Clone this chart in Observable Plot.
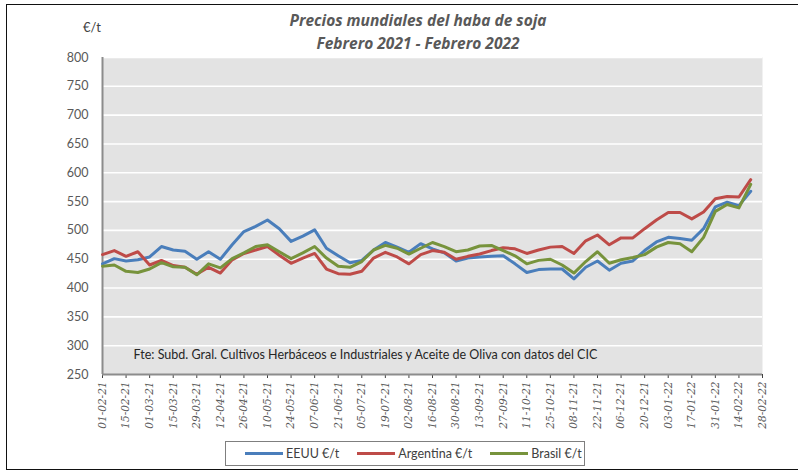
<!DOCTYPE html>
<html>
<head>
<meta charset="utf-8">
<script src="https://cdn.jsdelivr.net/npm/d3@7"></script>
<script src="https://cdn.jsdelivr.net/npm/@observablehq/plot@0.6"></script>
<style>
  html, body { margin: 0; padding: 0; background: #fff; }
  #wrap { position: relative; width: 798px; height: 476px; overflow: hidden; font-family: Lato, "Open Sans", sans-serif; }
  #border { position: absolute; left: 6px; top: 4px; width: 800px; height: 466px; border: 1.5px solid #111; box-sizing: border-box; }
  #chart { position: absolute; left: 0; top: 0; }
  .title { position: absolute; left: 0; width: 836px; text-align: center; font-family: "Open Sans", Lato, sans-serif; font-weight: bold; font-style: italic; font-size: 15.5px; color: #595959; }
  #unit { position: absolute; left: 83px; top: 19px; font-size: 13px; color: #404040; }
  #legend { position: absolute; left: 225px; top: 441px; width: 360px; height: 25px; border: 1px solid #7f7f7f; box-sizing: border-box; display: flex; align-items: center; font-size: 12.5px; color: #404040; }
  .item { display: flex; align-items: center; margin-left: 19px; }
  .item + .item { margin-left: 18px; }
  .sw { display: inline-block; width: 38px; height: 3px; margin-right: 3px; }
  svg g[aria-label="x-axis tick label"] text { font-style: italic; }
</style>
</head>
<body>
<div id="wrap">
  <div id="border"></div>
  <div id="chart"></div>
  <div class="title" style="top:9px">Precios mundiales del haba de soja</div>
  <div class="title" style="top:32px">Febrero 2021 - Febrero 2022</div>
  <div id="unit">€/t</div>
  <div id="legend"></div>
</div>
<script>
// ---- Data ----
const startDate = "2021-02-01";           // first weekly observation
const seriesNames = ["EEUU €/t", "Argentina €/t", "Brasil €/t"];
const seriesColors = ["#4a7ebb", "#be4b48", "#77933c"];

const eeuu = [442, 451, 447, 449, 454, 472, 466, 464, 450, 463, 450, 475, 498, 507, 518, 503,
  481, 490, 501, 469, 456, 444, 448, 466, 479, 471, 462, 477, 468, 461, 447, 452, 454, 455,
  456, 442, 427, 432, 433, 433, 416, 436, 447, 431, 443, 447, 465, 480, 488, 486, 483, 503,
  541, 549, 543, 568];
const argentina = [458, 465, 455, 463, 440, 448, 439, 436, 424, 436, 426, 449, 460, 466, 472, 457,
  443, 452, 460, 433, 425, 424, 429, 452, 462, 454, 442, 458, 465, 462, 450, 455, 459, 465,
  470, 468, 460, 466, 471, 472, 460, 482, 492, 475, 487, 487, 503, 518, 531, 531, 520, 532,
  555, 559, 558, 588];
const brasil = [438, 440, 429, 427, 433, 444, 437, 436, 423, 442, 435, 451, 461, 472, 475, 463,
  451, 461, 472, 452, 438, 436, 446, 466, 474, 469, 459, 469, 479, 472, 463, 466, 473, 474,
  465, 456, 442, 448, 450, 440, 426, 446, 463, 443, 449, 453, 458, 471, 479, 477, 463, 488,
  533, 545, 539, 580];

const tickLabels = ["01-02-21", "15-02-21", "01-03-21", "15-03-21", "29-03-21", "12-04-21",
  "26-04-21", "10-05-21", "24-05-21", "07-06-21", "21-06-21", "05-07-21", "19-07-21",
  "02-08-21", "16-08-21", "30-08-21", "13-09-21", "27-09-21", "11-10-21", "25-10-21",
  "08-11-21", "22-11-21", "06-12-21", "20-12-21", "03-01-22", "17-01-22", "31-01-22",
  "14-02-22", "28-02-22"];
const yTicks = [250, 300, 350, 400, 450, 500, 550, 600, 650, 700, 750, 800];
const note = "Fte: Subd. Gral. Cultivos Herbáceos e Industriales y Aceite de Oliva con datos del CIC";

// ---- Build table ----
const parse = d3.utcParse("%d-%m-%y");
const fmt = d3.utcFormat("%d-%m-%y");
const tickDates = tickLabels.map(parse);
const t0 = d3.utcParse("%Y-%m-%d")(startDate);
const allSeries = [eeuu, argentina, brasil];
const rows = [];
allSeries.forEach((vals, s) => vals.forEach((v, i) => rows.push({
  date: d3.utcDay.offset(t0, 7 * i), value: v, series: seriesNames[s]
})));

const chart = Plot.plot({
  width: 798,
  height: 476,
  marginLeft: 102,
  marginRight: 36,
  marginTop: 57,
  marginBottom: 102,
  style: { fontFamily: "Lato, 'Open Sans', sans-serif", background: "transparent", overflow: "visible" },
  x: { type: "utc", domain: [tickDates[0], tickDates[tickDates.length - 1]] },
  y: { domain: [yTicks[0], yTicks[yTicks.length - 1]] },
  color: { domain: seriesNames, range: seriesColors },
  marks: [
    Plot.frame({ fill: "#e3e3e3", stroke: null }),
    Plot.ruleY(yTicks.slice(1), { stroke: "#ffffff", strokeWidth: 1.6 }),
    Plot.axisY(yTicks, { tickSize: 0, tickPadding: 14, fontSize: 12.5, fill: "#595959", label: null }),
    Plot.axisX(tickDates, {
      tickSize: 4, tickPadding: 3, tickRotate: -90, tickFormat: fmt,
      fontSize: 10.5, fontFamily: "'DejaVu Serif', 'Liberation Serif', serif", fontStyle: "italic",
      fill: "#595959", stroke: "#404040", label: null
    }),
    Plot.ruleX([tickDates[0]], { stroke: "#8c8c8c", strokeWidth: 2 }),
    Plot.ruleY([yTicks[0]], { stroke: "#8c8c8c", strokeWidth: 2 }),
    Plot.lineY(rows, {
      x: "date", y: "value", z: "series", stroke: "series",
      strokeWidth: 3, strokeLinejoin: "round", strokeLinecap: "round"
    }),
    Plot.text([note], {
      text: d => d, frameAnchor: "bottom-left", textAnchor: "start",
      dx: 31, dy: -16, fontSize: 12.5, fill: "#262626"
    })
  ]
});
document.getElementById("chart").appendChild(chart);

// ---- Legend ----
const legend = document.getElementById("legend");
seriesNames.forEach((name, i) => {
  const item = document.createElement("div");
  item.className = "item";
  const sw = document.createElement("span");
  sw.className = "sw";
  sw.style.background = seriesColors[i];
  item.appendChild(sw);
  item.appendChild(document.createTextNode(name));
  legend.appendChild(item);
});
</script>
</body>
</html>
